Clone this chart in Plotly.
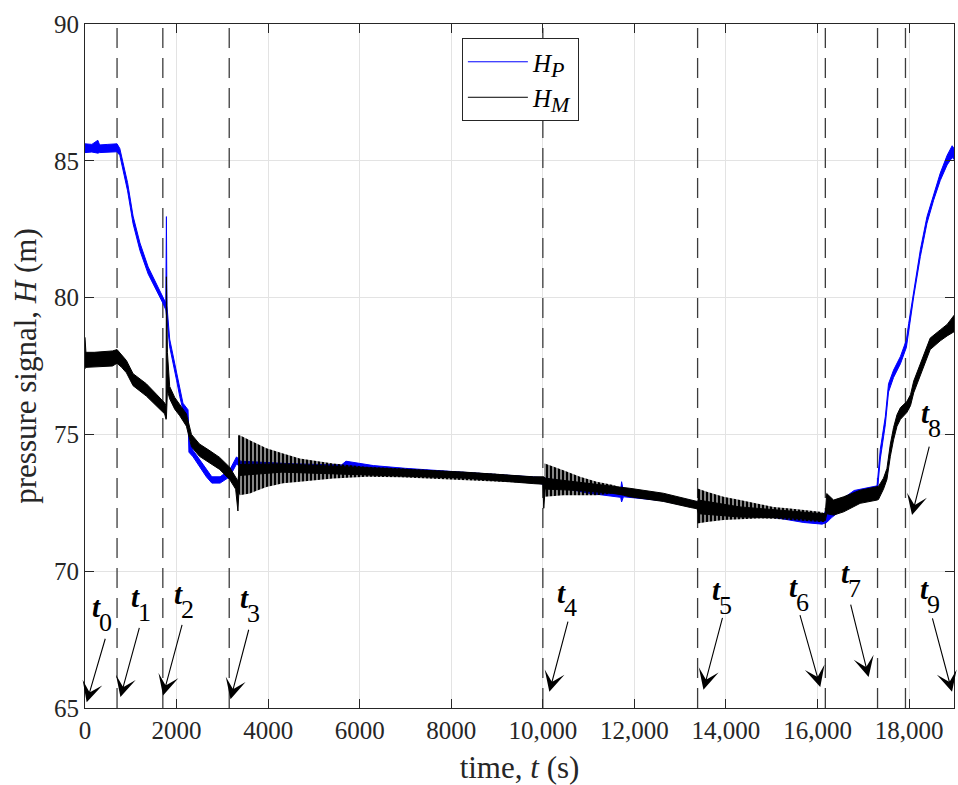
import plotly.graph_objects as go

# ---------------- measured pressure heads (band = min/max of the noisy record) ----------------
# H_P : time (s), lower and upper edge of the trace (m)
hp_t = [0, 150, 280, 320, 500, 700, 760, 800, 930, 1050, 1200, 1380, 1560, 1700, 1765, 1778, 1790,
        1850, 1925, 2000, 2070, 2140, 2250, 2270, 2360, 2500, 2650, 2770, 2950, 3160, 3310, 3400,
        4500, 5600, 5700, 6300, 7000, 8500, 9800, 10000, 11000, 11700, 11720, 11760, 12600, 13300,
        14000, 15000, 15700, 16100, 16200, 16300, 16800, 17300, 17370, 17480, 17550, 17660, 17810,
        17940, 17990, 18100, 18245, 18390, 18535, 18680, 18830, 18940, 18980]
hp_lo = [85.30, 85.32, 85.28, 85.30, 85.32, 85.33, 85.20, 84.90, 83.90, 82.70, 81.72, 80.86, 80.26,
         79.80, 79.55, 79.50, 79.20, 78.20, 77.58, 76.98, 76.38, 75.90, 75.62, 74.35, 74.18, 73.82,
         73.45, 73.22, 73.22, 73.45, 73.92, 73.80, 73.72, 73.66, 73.64, 73.60, 73.55, 73.40, 73.25,
         73.20, 72.85, 72.70, 72.53, 72.72, 72.58, 72.35, 72.15, 71.98, 71.78, 71.72, 71.78, 71.95,
         72.60, 72.80, 74.10, 75.35, 76.55, 77.08, 77.58, 78.18, 78.80, 80.03, 81.50, 82.72, 83.56,
         84.28, 84.85, 85.12, 85.05]
hp_hi = [85.62, 85.60, 85.75, 85.58, 85.60, 85.62, 85.45, 85.15, 84.20, 82.98, 82.00, 81.12, 80.52,
         80.05, 79.80, 82.96, 79.70, 78.48, 77.85, 77.24, 76.64, 76.14, 75.90, 74.80, 74.42, 74.08,
         73.70, 73.45, 73.45, 73.70, 74.18, 74.02, 73.93, 73.88, 74.02, 73.86, 73.76, 73.58, 73.44,
         73.42, 73.05, 72.95, 73.27, 72.92, 72.80, 72.55, 72.35, 72.18, 72.00, 71.92, 72.30, 72.35,
         72.95, 73.12, 74.45, 75.65, 76.85, 77.35, 77.85, 78.45, 79.05, 80.28, 81.75, 82.96, 83.80,
         84.55, 85.20, 85.55, 85.45]

# H_M : dense core of the trace
hm_t = [0, 20, 200, 400, 600, 700, 800, 905, 1050, 1340, 1560, 1740, 1770, 1778, 1800, 1850, 1960,
        2070, 2215, 2325, 2500, 2730, 2940, 3160, 3290, 3340, 3380, 4300, 6150, 8300, 9800, 10000,
        10020, 10050, 10800, 11500, 11760, 11900, 12630, 13220, 13370, 13400, 14300, 15400, 16100,
        16170, 16200, 16350, 16570, 16930, 17300, 17330, 17440, 17515, 17590, 17660, 17735, 17810,
        17950, 18030, 18100, 18320, 18460, 18680, 18830, 18980]
hm_lo = [77.40, 77.45, 77.45, 77.48, 77.50, 77.60, 77.45, 77.25, 76.78, 76.40, 76.03, 75.75, 75.55,
         75.60, 76.60, 76.30, 75.92, 75.68, 75.30, 74.55, 74.20, 73.96, 73.72, 73.35, 73.00, 72.20,
         73.50, 73.62, 73.52, 73.40, 73.20, 73.18, 72.30, 73.00, 72.95, 72.85, 72.78, 72.72, 72.55,
         72.33, 72.28, 72.10, 71.98, 71.95, 71.85, 71.85, 72.10, 72.05, 72.17, 72.48, 72.60, 72.62,
         73.00, 73.35, 74.20, 74.80, 75.30, 75.55, 75.80, 76.05, 76.52, 77.50, 78.10, 78.42, 78.60,
         78.75]
hm_hi = [78.55, 78.00, 78.00, 78.02, 78.05, 78.10, 77.90, 77.70, 77.22, 76.85, 76.47, 76.15, 76.05,
         80.76, 78.00, 76.75, 76.35, 76.10, 75.75, 75.00, 74.65, 74.40, 74.16, 73.80, 73.40, 73.30,
         73.90, 73.92, 73.78, 73.62, 73.45, 73.43, 73.45, 73.40, 73.25, 73.12, 73.05, 73.03, 72.85,
         72.62, 72.55, 72.60, 72.35, 72.20, 72.10, 72.12, 72.84, 72.60, 72.72, 72.96, 73.08, 73.10,
         73.40, 73.75, 74.65, 75.25, 75.72, 75.98, 76.20, 76.45, 76.95, 77.92, 78.52, 78.82, 79.02,
         79.35]

# H_M : envelope of the pressure oscillations after each valve manoeuvre
osc1_t = [3344, 3381, 3600, 3964, 4328, 4692, 5421, 6150, 6878, 7607, 8336, 9064, 9793, 10000]
osc1_hi = [74.97, 74.97, 74.79, 74.49, 74.30, 74.12, 73.94, 73.82, 73.76, 73.70, 73.63, 73.55, 73.45, 73.42]
osc1_lo = [72.90, 72.78, 72.84, 73.08, 73.21, 73.27, 73.39, 73.45, 73.43, 73.39, 73.33, 73.27, 73.21, 73.18]

osc2_t = [10030, 10044, 10448, 10813, 11178, 11541, 11760]
osc2_hi = [73.94, 73.94, 73.69, 73.45, 73.27, 73.15, 73.02]
osc2_lo = [72.72, 72.72, 72.78, 72.78, 72.78, 72.84, 72.80]

osc3_t = [13370, 13380, 13582, 13946, 14310, 14675, 15038, 15403, 15768, 16058, 16150]
osc3_hi = [73.02, 73.02, 72.90, 72.72, 72.60, 72.48, 72.35, 72.29, 72.23, 72.17, 72.12]
osc3_lo = [71.74, 71.74, 71.80, 71.87, 71.90, 71.93, 71.92, 71.87, 71.82, 71.80, 71.80]

# event instants t1..t8 (dashed markers)
event_times = [700, 1700, 3150, 10000, 13380, 16170, 17310, 17920]
event_labels = ["0", "1", "2", "3", "4", "5", "6", "7", "8", "9"]

x_tickvals = [0, 2000, 4000, 6000, 8000, 10000, 12000, 14000, 16000, 18000]
x_ticktext = ["0", "2000", "4000", "6000", "8000", "10,000", "12,000", "14,000", "16,000", "18,000"]
y_tickvals = [65, 70, 75, 80, 85, 90]

# ---------------- figure ----------------
FONT = "Liberation Serif"
AXC = "#262626"

def band_xy(t, lo, hi):
    return list(t) + list(t)[::-1], list(hi) + list(lo)[::-1]

fig = go.Figure()

# dashed event markers
vx, vy = [], []
for te in event_times:
    vx += [te, te, None]
    vy += [65, 90, None]
fig.add_trace(go.Scatter(x=vx, y=vy, mode="lines", showlegend=False, hoverinfo="skip",
                         line=dict(color="#3c3c3c", width=1.3, dash="20px,10px")))

# H_P
bx, by = band_xy(hp_t, hp_lo, hp_hi)
fig.add_trace(go.Scatter(x=bx, y=by, mode="lines", fill="toself", fillcolor="#0000ff",
                         line=dict(color="#0000ff", width=1), showlegend=False, hoverinfo="skip"))

# H_M oscillation envelopes (striped over a translucent base)
for ot, olo, ohi in [(osc1_t, osc1_lo, osc1_hi), (osc2_t, osc2_lo, osc2_hi), (osc3_t, osc3_lo, osc3_hi)]:
    ox, oy = band_xy(ot, olo, ohi)
    fig.add_trace(go.Scatter(x=ox, y=oy, mode="lines", fill="toself", fillcolor="rgba(0,0,0,0.35)",
                             fillpattern=dict(shape="|", size=4, solidity=0.6, fillmode="overlay",
                                              fgcolor="black", fgopacity=1),
                             line=dict(width=0), showlegend=False, hoverinfo="skip"))

# H_M core
mx, my = band_xy(hm_t, hm_lo, hm_hi)
fig.add_trace(go.Scatter(x=mx, y=my, mode="lines", fill="toself", fillcolor="black",
                         line=dict(color="black", width=1), showlegend=False, hoverinfo="skip"))

# legend entries
fig.add_trace(go.Scatter(x=[None], y=[None], mode="lines", line=dict(color="#0000ff", width=1),
                         name="<i>H</i><sub><span style='font-size:22px'><i>P</i></span></sub>"))
fig.add_trace(go.Scatter(x=[None], y=[None], mode="lines", line=dict(color="black", width=1),
                         name="<i>H</i><sub><span style='font-size:22px'><i>M</i></span></sub>"))

# event annotations: arrow tip (data), tail offset (px), label offset from tip (px)
arrow_tips = [(37, 65.21), (774, 65.40), (1705, 65.46), (3178, 65.32), (10142, 65.59),
              (13508, 65.67), (16059, 65.77), (17115, 66.13), (18063, 72.05), (18937, 65.59)]
tail_px = [(19, -65), (19.3, -70.7), (19.4, -72), (18.6, -71), (19, -71.7), (19.4, -73.3),
           (-20.7, -73.4), (-18.3, -74), (17.6, -70), (-20, -75)]
label_px = [(10, -95), (15, -100), (15.7, -101), (14.3, -101), (11.7, -99), (12.7, -99.3),
            (-27, -99.7), (-23.3, -103.7), (13.3, -102), (-27.7, -102.7)]

annotations = []
for lab, (tx, ty), (ax, ay), (lx, ly) in zip(event_labels, arrow_tips, tail_px, label_px):
    annotations.append(dict(x=tx, y=ty, xref="x", yref="y", ax=ax, ay=ay, text="",
                            showarrow=True, arrowhead=3, arrowsize=3.1, arrowwidth=1.1,
                            arrowcolor="black"))
    annotations.append(dict(x=tx, y=ty, xref="x", yref="y", xshift=lx, yshift=-ly,
                            text="<b><i>t</i></b>", showarrow=False,
                            font=dict(family=FONT, size=29, color="black")))
    annotations.append(dict(x=tx, y=ty, xref="x", yref="y", xshift=lx + 9, yshift=-(ly + 15),
                            text=lab, showarrow=False,
                            font=dict(family=FONT, size=26, color="black")))

fig.update_layout(
    width=958, height=785,
    margin=dict(l=85, r=4, t=24, b=77),
    paper_bgcolor="white", plot_bgcolor="white",
    font=dict(family=FONT, size=25, color=AXC),
    annotations=annotations,
    legend=dict(x=0.4337, y=0.9795, xanchor="left", yanchor="top",
                bgcolor="white", bordercolor=AXC, borderwidth=1,
                font=dict(family=FONT, size=25, color="black"), itemwidth=60),
    xaxis=dict(range=[0, 18980], tickvals=x_tickvals, ticktext=x_ticktext,
               tickfont=dict(family=FONT, size=25, color=AXC),
               showgrid=True, gridcolor="#e3e3e3", gridwidth=1, zeroline=False,
               showline=True, linecolor=AXC, linewidth=1, mirror="ticks",
               ticks="inside", ticklen=9, tickcolor=AXC,
               title=dict(text="time, <i>t</i> (s)", standoff=13,
                          font=dict(family=FONT, size=31, color=AXC))),
    yaxis=dict(range=[65, 90], tickvals=y_tickvals,
               tickfont=dict(family=FONT, size=25, color=AXC),
               showgrid=True, gridcolor="#e3e3e3", gridwidth=1, zeroline=False,
               showline=True, linecolor=AXC, linewidth=1, mirror="ticks",
               ticks="inside", ticklen=9, tickcolor=AXC,
               title=dict(text="pressure signal, <i>H</i> (m)", standoff=8,
                          font=dict(family=FONT, size=31, color=AXC))),
)

fig.write_html("out.html")
